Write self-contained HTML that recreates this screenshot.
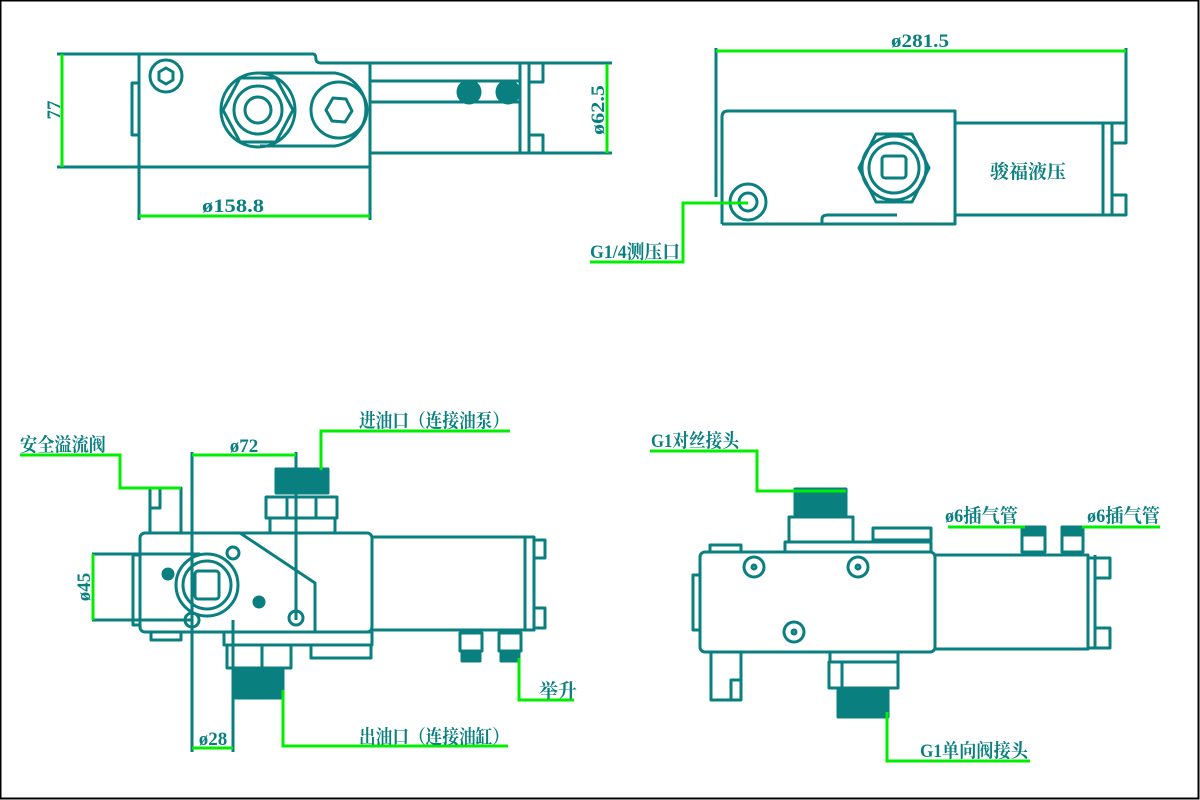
<!DOCTYPE html>
<html><head><meta charset="utf-8"><style>
html,body{margin:0;padding:0;background:#fff}
svg{display:block}
text{font-family:"Liberation Serif","Noto Serif CJK SC","Noto Sans CJK SC",serif;fill:#0a7f7f;font-size:19px;font-weight:bold}
</style></head><body>
<svg width="1200" height="800" viewBox="0 0 1200 800" xmlns="http://www.w3.org/2000/svg">
<rect x="0.5" y="0.5" width="1198" height="798" fill="#fff" stroke="#000" stroke-width="2"/>
<g fill="none" stroke="#0a7f7f" stroke-width="3" stroke-linejoin="round">
<!-- TOP LEFT VIEW -->
<path d="M57 54 H313 Q316 54 316 60 Q317 63 321 63 H612"/>
<path d="M57 167 H370"/>
<path d="M139 54 V220 M370 63 V220"/>
<rect x="132" y="83" width="7" height="52"/>
<path d="M370 81 H520 M370 102 H520 M370 153 H612 M520 63 V153 M529 63 V153 M529 63 H543 V82 H529 M529 135 H543 V153"/>
<circle cx="166" cy="76" r="16"/>
<polygon points="166,68 173,72 173,80 166,84 159,80 159,72"/>
<path d="M260 73 H335 A37 37 0 0 1 335 146 H260"/>
<circle cx="258" cy="110" r="37"/>
<polygon points="240,78 276,78 293,110 276,142 240,142 223,110"/>
<circle cx="258" cy="110" r="24"/>
<circle cx="258" cy="110" r="13"/>
<circle cx="339" cy="110" r="28"/>
<polygon points="333,98 346,99 352,111 345,122 332,121 326,110"/>
<circle cx="469" cy="92" r="11" fill="#0a7f7f"/>
<circle cx="508" cy="92" r="11" fill="#0a7f7f"/>
<!-- TOP RIGHT VIEW -->
<path d="M716 48 V197 M1126 48 V143"/>
<path d="M722 224 V117 Q722 111 728 111 H955 V224 H722"/>
<path d="M955 123 H1112 V215 H955 M1103 123 V215 M1112 123 H1126 V143 H1112 M1112 195 H1126 V215 H1112"/>
<path d="M822 224 V219 Q822 215 828 215 H897"/>
<polygon points="876,134 912,134 929,168 912,202 876,202 859,168"/>
<circle cx="894" cy="168" r="32"/>
<circle cx="894" cy="168" r="25"/>
<rect x="882" y="156" width="24" height="22" rx="3"/>
<circle cx="748" cy="202" r="18"/>
<circle cx="748" cy="202" r="9"/>
<!-- BOTTOM LEFT VIEW -->
<rect x="140" y="533" width="232" height="99" rx="5"/>
<path d="M372 537 H534 V630 H372 M525 537 V630 M534 540 H545 V558 H534 M534 608 H545 V628 H534"/>
<rect x="133" y="555" width="7" height="70"/>
<path d="M240 533 L315 583 V632"/>
<circle cx="207" cy="585" r="31"/>
<circle cx="207" cy="585" r="24"/>
<rect x="195" y="571" width="24" height="28" rx="3"/>
<circle cx="233" cy="553" r="6"/>
<circle cx="192" cy="620" r="7"/>
<circle cx="296" cy="618" r="7"/>
<circle cx="168" cy="574" r="5" fill="#0a7f7f"/>
<circle cx="259" cy="602" r="5" fill="#0a7f7f"/>
<path d="M150 533 V488 H181 V533 M150 508 H160 V488"/>
<rect x="266" y="497" width="71" height="21"/>
<path d="M287 497 V518 M316 497 V518 M270 518 V533 M335 518 V533"/>
<rect x="276" y="469" width="52" height="24" fill="#0a7f7f"/>
<path d="M192 452 V752 M296 452 V620 M233 620 V752"/>
<path d="M92 554 H200 M92 620 H192"/>
<rect x="151" y="632" width="30" height="8"/>
<rect x="224" y="632" width="148" height="13"/>
<rect x="227" y="645" width="64" height="23"/>
<path d="M262 645 V668"/>
<rect x="235" y="668" width="48" height="30" fill="#0a7f7f"/>
<rect x="311" y="645" width="60" height="13"/>
<rect x="460" y="633" width="22" height="18"/>
<rect x="462" y="651" width="18" height="10" fill="#0a7f7f"/>
<rect x="499" y="633" width="22" height="18"/>
<rect x="501" y="651" width="18" height="10" fill="#0a7f7f"/>
<!-- BOTTOM RIGHT VIEW -->
<rect x="700" y="552" width="235" height="100" rx="5"/>
<path d="M935 555 H1088 V649 H935 M1095 555 V649 M1088 558 H1110 V578 H1095 M1095 628 H1110 V648 H1088"/>
<rect x="693" y="575" width="7" height="55"/>
<rect x="710" y="545" width="31" height="7"/>
<rect x="785" y="542" width="146" height="10"/>
<rect x="789" y="517" width="64" height="25"/>
<rect x="795" y="489" width="51" height="26" fill="#0a7f7f"/>
<rect x="873" y="528" width="58" height="12"/>
<circle cx="754" cy="567" r="10"/><circle cx="754" cy="567" r="2"/>
<circle cx="858" cy="567" r="10"/><circle cx="858" cy="567" r="2"/>
<circle cx="794" cy="632" r="10"/><circle cx="794" cy="632" r="2"/>
<rect x="830" y="652" width="68" height="10"/>
<rect x="829" y="662" width="69" height="26"/>
<path d="M842 662 V688"/>
<rect x="838" y="688" width="50" height="29" fill="#0a7f7f"/>
<path d="M711 652 V700 H741 V652 M731 700 V680 H741"/>
<rect x="1022" y="527" width="23" height="8" fill="#0a7f7f"/>
<rect x="1022" y="535" width="23" height="17"/>
<rect x="1062" y="527" width="21" height="8" fill="#0a7f7f"/>
<rect x="1062" y="535" width="21" height="17"/>
</g>
<!-- GREEN DIMENSIONS/LEADERS -->
<g fill="none" stroke="#00ee00" stroke-width="3">
<path d="M62 54 V167"/>
<path d="M139 216 H370"/>
<path d="M607 64 V153"/>
<path d="M716 51 H1126"/>
<path d="M748 203 H683 V262 H590"/>
<path d="M20 455 H120 V488 H181"/>
<path d="M192 455 H296"/>
<path d="M321 470 V431 H510"/>
<path d="M93 554 V620"/>
<path d="M192 748 H233"/>
<path d="M283 690 V746 H508"/>
<path d="M519 658 V700 H574"/>
<path d="M650 451 H757 V491 H846"/>
<path d="M948 527 H1025"/>
<path d="M1082 527 H1160"/>
<path d="M887 712 V761 H1030"/>
</g>
<text x="233" y="212" text-anchor="middle" textLength="62" lengthAdjust="spacingAndGlyphs">ø158.8</text>
<text transform="translate(60,110) rotate(-90)" text-anchor="middle">77</text>
<text transform="translate(604,110) rotate(-90)" text-anchor="middle" textLength="50" lengthAdjust="spacingAndGlyphs">ø62.5</text>
<text x="920" y="47" text-anchor="middle" textLength="58" lengthAdjust="spacingAndGlyphs">ø281.5</text>
<text x="1028" y="178" text-anchor="middle" font-size="22">骏福液压</text>
<text x="590" y="258" textLength="90" lengthAdjust="spacingAndGlyphs">G1/4测压口</text>
<text x="20" y="451" textLength="86" lengthAdjust="spacingAndGlyphs">安全溢流阀</text>
<text x="244" y="452" text-anchor="middle">ø72</text>
<text x="359" y="427" textLength="150" lengthAdjust="spacingAndGlyphs">进油口（连接油泵）</text>
<text transform="translate(90,587) rotate(-90)" text-anchor="middle">ø45</text>
<text x="213" y="745" text-anchor="middle">ø28</text>
<text x="359" y="743" textLength="150" lengthAdjust="spacingAndGlyphs">出油口（连接油缸）</text>
<text x="539" y="697">举升</text>
<text x="651" y="447" textLength="88" lengthAdjust="spacingAndGlyphs">G1对丝接头</text>
<text x="945" y="522" textLength="73" lengthAdjust="spacingAndGlyphs">ø6插气管</text>
<text x="1087" y="522" textLength="73" lengthAdjust="spacingAndGlyphs">ø6插气管</text>
<text x="920" y="757" textLength="108" lengthAdjust="spacingAndGlyphs">G1单向阀接头</text>
</svg>
</body></html>
